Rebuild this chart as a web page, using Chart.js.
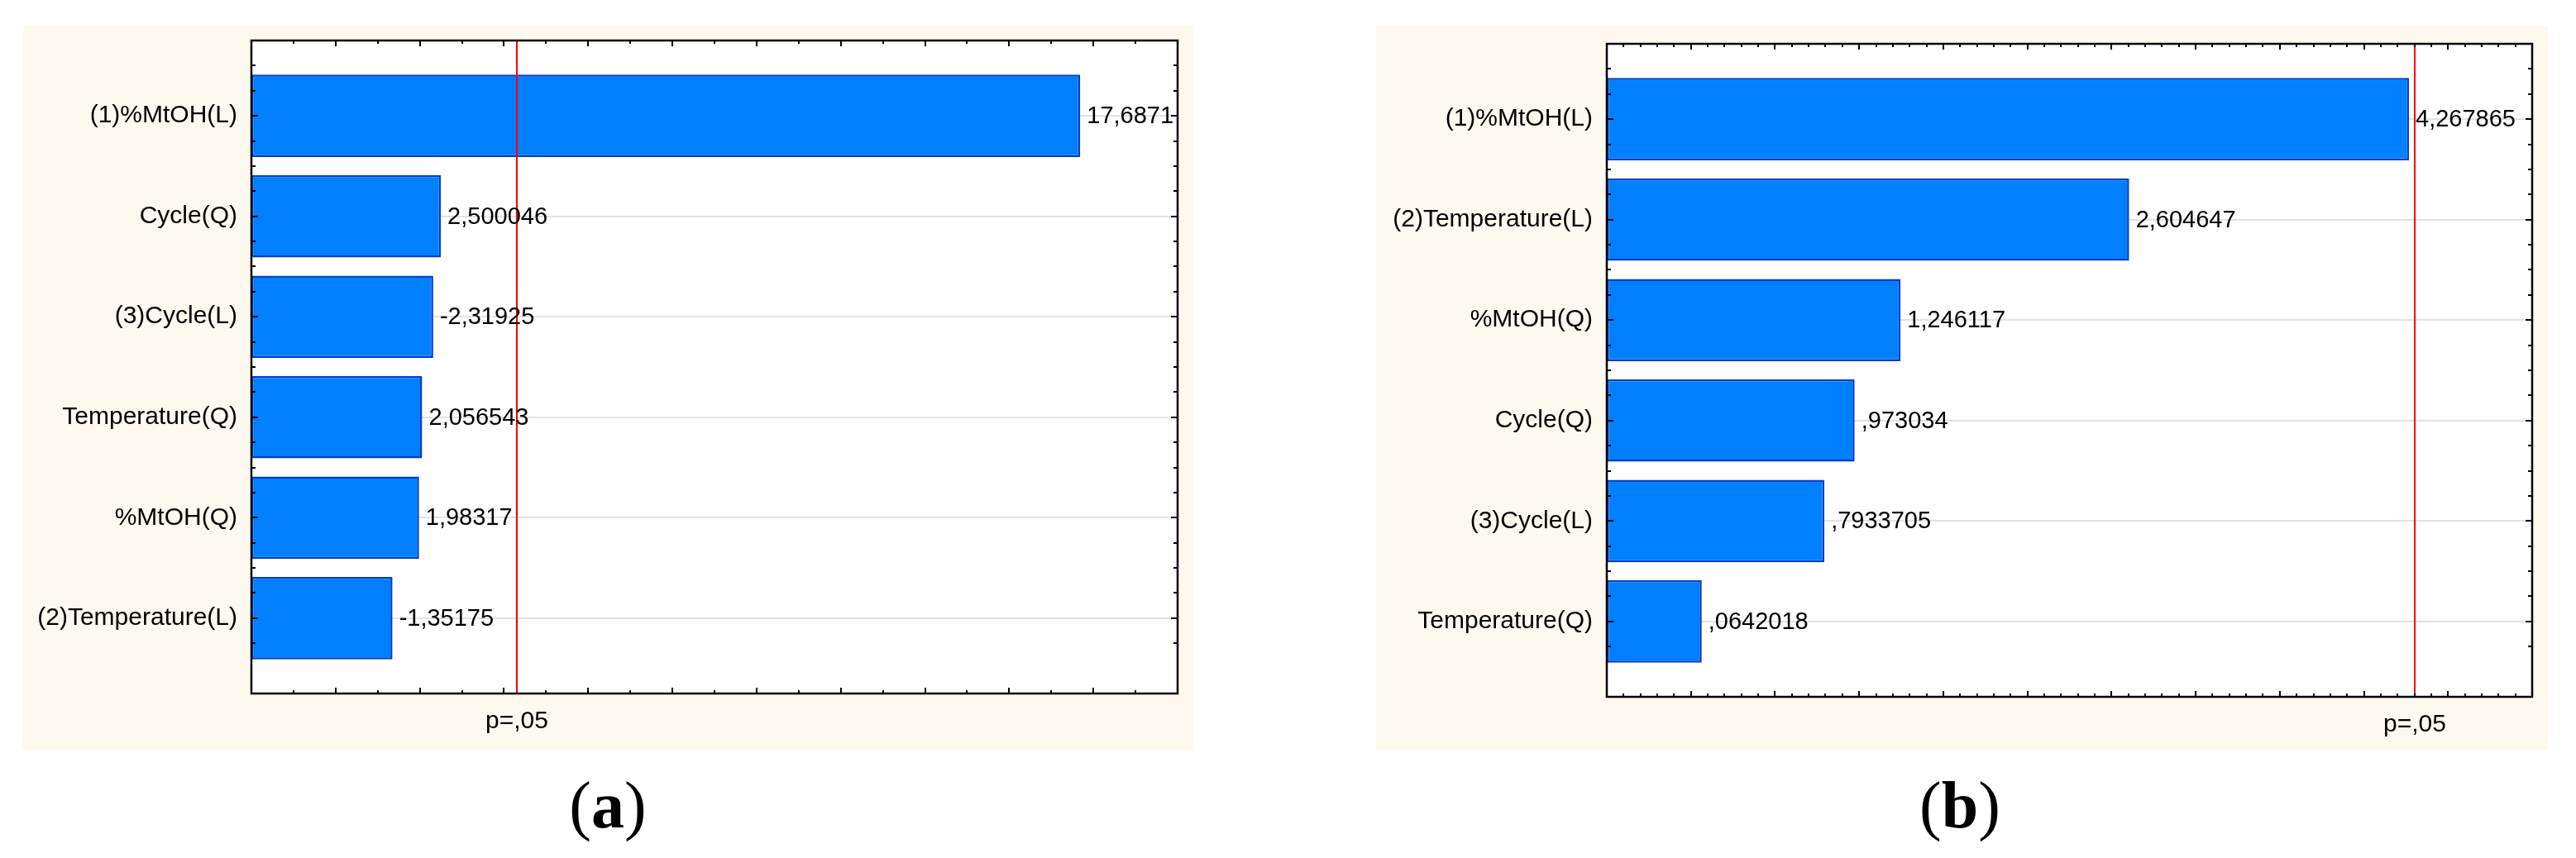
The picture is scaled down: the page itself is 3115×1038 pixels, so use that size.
<!DOCTYPE html>
<html>
<head>
<meta charset="utf-8">
<script src="https://cdn.jsdelivr.net/npm/chart.js@4.4.1/dist/chart.umd.min.js"></script>
<style>
  html, body { margin: 0; padding: 0; background: #fff; }
  body { width: 3115px; height: 1038px; position: relative; overflow: hidden; }
  .panel { position: absolute; background: #fdf9ef; }
  #panelA { left: 27px; top: 31px; width: 1416px; height: 876px; }
  #panelB { left: 1664px; top: 31px; width: 1417px; height: 876px; }
  .caption { position: absolute; top: 934px; width: 200px; margin-left: -100px; text-align: center;
             font: 80px/80px 'Liberation Serif', 'Times New Roman', serif; color: #000; }
</style>
</head>
<body>
<div class="panel" id="panelA"><canvas id="chartA" width="1416" height="876"></canvas></div>
<div class="panel" id="panelB"><canvas id="chartB" width="1417" height="876"></canvas></div>
<div class="caption" style="left:735px">(<b>a</b>)</div>
<div class="caption" style="left:2370px">(<b>b</b>)</div>

<script>
// ── Data (a) ────────────────────────────────────────────────
const A_CATS    = ['(1)%MtOH(L)', 'Cycle(Q)', '(3)Cycle(L)', 'Temperature(Q)', '%MtOH(Q)', '(2)Temperature(L)'];
const A_EFFECTS = [17.6871, 2.500046, -2.31925, 2.056543, 1.98317, -1.35175];

// ── Data (b) ────────────────────────────────────────────────
const B_CATS    = ['(1)%MtOH(L)', '(2)Temperature(L)', '%MtOH(Q)', 'Cycle(Q)', '(3)Cycle(L)', 'Temperature(Q)'];
const B_EFFECTS = [4.267865, 2.604647, 1.246117, 0.973034, 0.7933705, 0.0642018];

// p=.05 reference line (critical t) and its label
const P_CRIT  = 4.303;
const P_LABEL = 'p=,05';

// axis ranges
const A_AXIS = { min: -2,   max: 20, major: 2,   minor: 1 };
const B_AXIS = { min: -0.5, max: 5,  major: 0.5, minor: 0.1 };

const BAR_FILL = '#0080ff';
const BAR_EDGE = '#0040c4';
const GRID     = '#e2e2e2';

Chart.defaults.font.family = "'Liberation Sans', Arial, sans-serif";
Chart.defaults.color = '#000';

// Statistica style: 7 significant digits, comma, no leading zero
function statFmt(v) {
  let s = v.toPrecision(7);
  if (s.includes('.')) s = s.replace(/0+$/, '').replace(/\.$/, '');
  s = s.replace(/^(-?)0\./, '$1.');
  return s.replace('.', ',');
}

// frame, inward ticks, p-line and value labels
const decor = {
  id: 'effectDecor',
  beforeDraw(chart) {
    const { ctx, chartArea: a } = chart;
    ctx.save();
    ctx.fillStyle = '#fff';
    ctx.fillRect(a.left, a.top, a.width, a.height);
    ctx.restore();
  },
  afterDatasetsDraw(chart, args, opts) {
    const { ctx, chartArea: a } = chart;
    const xs = chart.scales.x, ys = chart.scales.y;
    ctx.save();

    // red p=.05 line
    const xp = Math.round(xs.getPixelForValue(P_CRIT));
    ctx.strokeStyle = '#ff0000';
    ctx.lineWidth = 2;
    ctx.beginPath();
    ctx.moveTo(xp, a.top);
    ctx.lineTo(xp, a.bottom);
    ctx.stroke();

    // value labels at bar ends
    const meta = chart.getDatasetMeta(0);
    ctx.fillStyle = '#000';
    ctx.font = "29px 'Liberation Sans', Arial, sans-serif";
    ctx.textAlign = 'left';
    ctx.textBaseline = 'middle';
    meta.data.forEach((bar, i) => {
      ctx.fillText(statFmt(opts.effects[i]), bar.x + 8, bar.y + 1);
    });

    // frame
    ctx.strokeStyle = '#000';
    ctx.lineWidth = 2.5;
    ctx.strokeRect(a.left, a.top, a.width, a.height);

    // x ticks (top + bottom, pointing inward)
    ctx.lineWidth = 2;
    const ax = opts.axis;
    const nx = Math.round((ax.max - ax.min) / ax.minor);
    ctx.beginPath();
    for (let k = 0; k <= nx; k++) {
      const v = ax.min + k * ax.minor;
      const r = v / ax.major;
      const len = Math.abs(r - Math.round(r)) < 1e-6 ? 7 : 4;
      const px = Math.round(xs.getPixelForValue(v));
      ctx.moveTo(px, a.top);    ctx.lineTo(px, a.top + len);
      ctx.moveTo(px, a.bottom); ctx.lineTo(px, a.bottom - len);
    }
    // y ticks (left + right), quarter steps, majors on categories
    const n = opts.effects.length;
    for (let k = 0; k <= n * 4; k++) {
      const v = -0.75 + k * 0.25;
      const len = Math.abs(v - Math.round(v)) < 1e-6 ? 8 : 5;
      const py = Math.round(ys.getPixelForValue(v));
      ctx.moveTo(a.left, py);  ctx.lineTo(a.left + len, py);
      ctx.moveTo(a.right, py); ctx.lineTo(a.right - len, py);
    }
    ctx.stroke();

    // p label under the line
    ctx.font = "30px 'Liberation Sans', Arial, sans-serif";
    ctx.textAlign = 'center';
    ctx.fillText(P_LABEL, xp, a.bottom + 34);
    ctx.restore();
  }
};

function effectChart(id, cats, effects, axis, pad) {
  const el = document.getElementById(id);
  const points = cats.map((c, i) => ({ y: i, x: Math.abs(effects[i]) }));

  new Chart(el, {
    type: 'bar',
    data: {
      datasets: [{
        data: points,
        base: axis.min,
        backgroundColor: BAR_FILL,
        borderColor: BAR_EDGE,
        borderWidth: 2.5,
        borderSkipped: false,
        barPercentage: 0.82,
        categoryPercentage: 1,
      }],
    },
    options: {
      indexAxis: 'y',
      responsive: false,
      animation: false,
      layout: { padding: { left: 0, top: pad.top, right: pad.right, bottom: pad.bottom } },
      plugins: {
        legend:  { display: false },
        tooltip: { enabled: false },
        effectDecor: { effects, axis },
      },
      scales: {
        x: { type: 'linear', display: false, min: axis.min, max: axis.max, offset: false },
        y: {
          type: 'linear',
          reverse: true,
          offset: false,
          min: -0.75,
          max: cats.length - 0.25,
          afterBuildTicks: s => { s.ticks = cats.map((_, i) => ({ value: i })); },
          afterFit: s => { s.width = pad.left; s.paddingTop = 0; s.paddingBottom = 0; },
          ticks:  { callback: (v, i) => cats[i], font: { size: 30 }, padding: 17, autoSkip: false, color: '#000' },
          grid:   { color: GRID, lineWidth: 2, drawTicks: false, offset: false },
          border: { display: false },
        },
      },
    },
    plugins: [decor],
  });
}

window.addEventListener('DOMContentLoaded', () => {
  effectChart('chartA', A_CATS, A_EFFECTS, A_AXIS, { left: 277, top: 18, right: 19, bottom: 68 });
  effectChart('chartB', B_CATS, B_EFFECTS, B_AXIS, { left: 279, top: 22, right: 19, bottom: 64 });
});
</script>
</body>
</html>
